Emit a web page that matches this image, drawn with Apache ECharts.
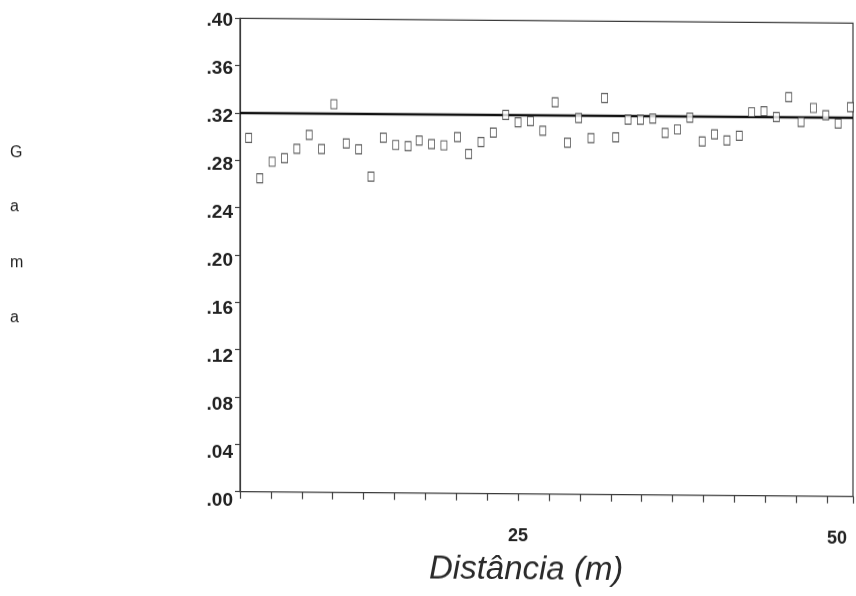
<!DOCTYPE html>
<html><head><meta charset="utf-8">
<script src="https://cdn.jsdelivr.net/npm/echarts@6/dist/echarts.min.js"></script>
<style>
html,body{margin:0;padding:0;background:#fff;overflow:hidden}
#c{width:856px;height:596px;transform:skewY(0.45deg);transform-origin:240px 0}
</style>
</head><body><div id="c"></div>
<script>
// distance (m) of each lag
const distances = [3.2, 4.1, 5.1, 6.1, 7.1, 8.1, 9.1, 10.1, 11.1, 12.1,
  13.1, 14.1, 15.1, 16.1, 17.0, 18.0, 19.0, 20.1, 21.0, 22.0,
  23.0, 24.0, 25.0, 26.0, 27.0, 28.0, 29.0, 29.9, 30.9, 32.0,
  32.9, 33.9, 34.9, 35.9, 36.9, 37.9, 38.9, 39.9, 40.9, 41.9,
  42.9, 43.9, 44.9, 45.9, 46.9, 47.9, 48.9, 49.9, 50.9, 51.9];
// semivariance (gama)
const gamma = [0.299, 0.265, 0.279, 0.282, 0.290, 0.302, 0.290, 0.328, 0.295, 0.290,
  0.267, 0.300, 0.294, 0.293, 0.298, 0.295, 0.294, 0.301, 0.287, 0.297,
  0.305, 0.320, 0.314, 0.315, 0.307, 0.331, 0.297, 0.318, 0.301, 0.335,
  0.302, 0.317, 0.317, 0.318, 0.306, 0.309, 0.319, 0.299, 0.305, 0.300,
  0.304, 0.324, 0.325, 0.320, 0.337, 0.316, 0.328, 0.322, 0.315, 0.329];
const sill = 0.32;
const xMin = 2.5, xMax = 52.1, xStep = 2.5;
const xTickLabels = { '25': '25', '50': '50' };
const yTickValues = [0, 0.04, 0.08, 0.12, 0.16, 0.20, 0.24, 0.28, 0.32, 0.36, 0.40];
const yTickLabels = ['.00', '.04', '.08', '.12', '.16', '.20', '.24', '.28', '.32', '.36', '.40'];
const yLetters = ['G', 'a', 'm', 'a'];
const xTitle = 'Distância (m)';

const FONT = "'Liberation Sans', Arial, Helvetica, sans-serif";
const chart = echarts.init(document.getElementById('c'), null, { renderer: 'canvas' });

const letterY = [153, 207, 263, 318];
const graphics = yLetters.map((t, i) => ({
  type: 'text', left: 10, top: letterY[i] - 6,
  style: { text: t, font: '16px ' + FONT, fill: '#222' }
}));
graphics.push({
  type: 'text', left: 429, top: 551,
  style: { text: xTitle, font: 'italic 33px ' + FONT, fill: '#2a2a2a' }
});

const axisColor = '#3a3a3a';
chart.setOption({
  animation: false,
  backgroundColor: '#fff',
  grid: [
    { left: 240, top: 18.3, right: 1, bottom: 104.3, show: true, borderColor: axisColor, borderWidth: 1.2, backgroundColor: 'transparent' },
    { left: 240, top: 21, right: 1, bottom: 95, show: false }
  ],
  xAxis: [{
    type: 'value', min: xMin, max: xMax, interval: xStep,
    axisLine: { show: true, onZero: false, lineStyle: { color: axisColor, width: 1.2 } },
    axisTick: { show: true, inside: false, length: 7, lineStyle: { color: '#444', width: 1.2 } },
    splitLine: { show: false },
    axisLabel: {
      margin: 33, color: '#222', fontFamily: FONT, fontSize: 18, fontWeight: 'bold',
      formatter: v => {
        const k = String(Math.round(v * 100) / 100);
        const t = xTickLabels[k];
        if (!t) return '';
        return k === '50' ? '{r|' + t + '}' : t;
      },
      rich: { r: { padding: [0, 0, 0, 20], color: '#222', fontFamily: FONT, fontSize: 18, fontWeight: 'bold' } }
    }
  }, {
    gridIndex: 1, type: 'value', min: xMin, max: xMax, show: false
  }],
  yAxis: [{
    type: 'value', min: 0, max: 0.4, interval: 0.04,
    axisLine: { show: true, lineStyle: { color: axisColor, width: 1.2 } },
    axisTick: { show: true, inside: false, length: 5, lineStyle: { color: '#444', width: 1.2 } },
    splitLine: { show: false },
    axisLabel: { show: false }
  }, {
    gridIndex: 1, type: 'value', min: 0, max: 0.4, interval: 0.04,
    axisLine: { show: false }, axisTick: { show: false }, splitLine: { show: false },
    axisLabel: {
      margin: 7, color: '#222', fontFamily: FONT, fontSize: 19, fontWeight: 'bold',
      formatter: v => { const i = yTickValues.findIndex(t => Math.abs(t - v) < 1e-6); return i >= 0 ? yTickLabels[i] : ''; }
    }
  }],
  graphic: graphics,
  series: [
    {
      type: 'line', data: [[xMin, sill], [xMax, sill]], symbol: 'none', silent: true,
      lineStyle: { color: '#111', width: 2.4 }, z: 2
    },
    {
      type: 'scatter', data: distances.map((d, i) => [d, gamma[i]]),
      symbol: 'rect', symbolSize: [6, 9],
      itemStyle: { color: '#fff', borderColor: '#333', borderWidth: 1 }, z: 3
    }
  ]
});
</script>
</body></html>
